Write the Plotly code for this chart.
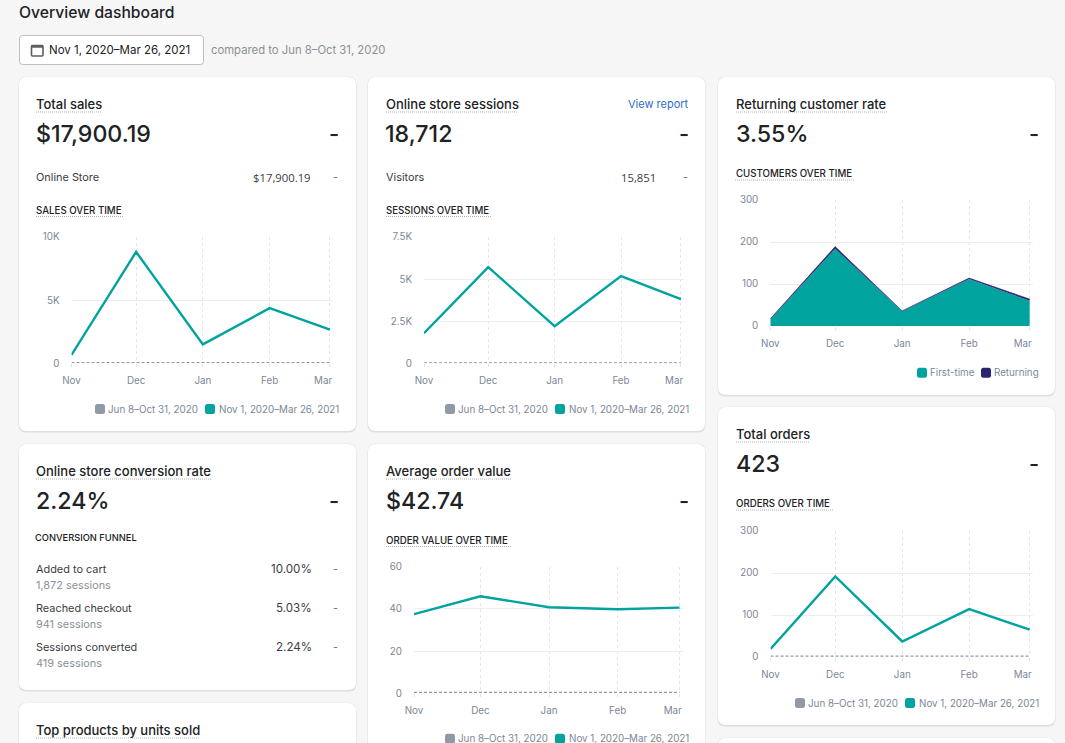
import plotly.graph_objects as go

W, H = 1065, 743
TEAL = "#00a39e"
NAVY = "#2a2470"
GREY = "#8f9aa6"
INK = "#202223"
MUTED = "#8c9196"
AXIS = "#7c8796"
GRID = "#ebedf2"
FONT = "Inter"
NUM_FONT = "Open Sans"
TITLE = 13
BIG = 23.2
HEAD = 9.7
SMALL = 10.9
TICK = 9.8

months = ["2020-11-01", "2020-12-01", "2021-01-01", "2021-02-01", "2021-03-01"]
month_labels = ["Nov", "Dec", "Jan", "Feb", "Mar"]
prior_label = "Jun 8–Oct 31, 2020"
current_label = "Nov 1, 2020–Mar 26, 2021"

sales_current = [660, 8820, 1500, 4370, 2660]
sales_prior = [60, 60, 60, 60, 60]
sales_ticks = [0, 5000, 10000]
sales_ticklabels = ["0", "5K", "10K"]

sessions_current = [1790, 5710, 2200, 5180, 3810]
sessions_prior = [30, 30, 30, 30, 30]
sessions_ticks = [0, 2500, 5000, 7500]
sessions_ticklabels = ["0", "2.5K", "5K", "7.5K"]

customers_first = [16, 184, 35, 112, 60]
customers_returning = [1, 5, 1, 2, 4]
customers_ticks = [0, 100, 200, 300]

aov_current = [37.5, 46, 40.8, 39.8, 40.6]
aov_prior = [0.4, 0.4, 0.4, 0.4, 0.4]
aov_ticks = [0, 20, 40, 60]

orders_current = [19, 192, 37, 114, 65]
orders_prior = [2, 2, 2, 2, 2]
orders_ticks = [0, 100, 200, 300]

fig = go.Figure()
shapes, notes = [], []


def px(x):
    return x / W


def py(y):
    return 1 - y / H


def text(x, y, s, size=11, color=INK, weight=400, anchor="left", family=FONT):
    notes.append(dict(x=x, y=y, xref="x", yref="y", text=s, showarrow=False,
                      xanchor=anchor, yanchor="middle", borderpad=0, borderwidth=0,
                      font=dict(family=family, size=size, color=color, weight=weight)))


def rrect(x0, y0, x1, y1, r, fill, line=None, lw=0):
    path = (f"M{x0 + r},{y0} L{x1 - r},{y0} Q{x1},{y0} {x1},{y0 + r} L{x1},{y1 - r} Q{x1},{y1} {x1 - r},{y1} "
            f"L{x0 + r},{y1} Q{x0},{y1} {x0},{y1 - r} L{x0},{y0 + r} Q{x0},{y0} {x0 + r},{y0} Z")
    shapes.append(dict(type="path", path=path, xref="x", yref="y", fillcolor=fill, layer="below",
                       line=dict(color=line or fill, width=lw)))


def dotted(x0, x1, y):
    shapes.append(dict(type="line", xref="x", yref="y", x0=x0, x1=x1, y0=y, y1=y,
                       layer="below", line=dict(color="#aeb4bb", width=1, dash="1px,1px")))


def card(x0, y0, x1, y1):
    rrect(x0 - 0.5, y0 - 0.2, x1 + 0.5, y1 + 1.5, 8, "#dcdee1")
    rrect(x0, y0, x1, y1, 8, "#ffffff")


def swatch(x, y, color):
    rrect(x, y - 5, x + 10, y + 5, 2.5, color)


def legend_pair(x, y, label_a, color_a, label_b, color_b, gap):
    swatch(x, y, color_a)
    text(x + 13, y, label_a, size=TICK, color=AXIS)
    swatch(x + gap, y, color_b)
    text(x + gap + 13.5, y, label_b, size=TICK, color=AXIS)


# full-page pixel axes carry the cards and the page text
fig.add_trace(go.Scatter(x=[None], y=[None], mode="lines", hoverinfo="skip", showlegend=False))
fig.update_layout(
    xaxis=dict(domain=[0, 1], range=[0, W], visible=False, fixedrange=True, anchor="y"),
    yaxis=dict(domain=[0, 1], range=[H, 0], visible=False, fixedrange=True, anchor="x"),
)

chart_no = [1]


def axes(left, right, top, bottom, ymax, ticks, ticklabels):
    chart_no[0] += 1
    n = chart_no[0]
    xa, ya = f"xaxis{n}", f"yaxis{n}"
    shown = [m if m != "Mar" else m + "\u00a0" * 5 for m in month_labels]
    fig.update_layout({
        xa: dict(domain=[px(left), px(right)], anchor=f"y{n}", type="date",
                 range=["2020-11-01", "2021-03-02 10:00"], tickmode="array", tickvals=months, ticktext=shown,
                 showgrid=True, gridcolor="#e3e6ec", griddash="3px,3px", gridwidth=1, zeroline=False, showline=False,
                 ticks="outside", ticklen=3, tickcolor="#dfe3e8", ticklabelstandoff=5,
                 tickfont=dict(family=FONT, size=TICK, color=AXIS)),
        ya: dict(domain=[py(bottom), py(top)], anchor=f"x{n}", range=[0, ymax], tickmode="array", tickvals=ticks,
                 ticktext=ticklabels, showgrid=True, gridcolor=GRID, gridwidth=1, zeroline=False, showline=False,
                 ticks="", ticklabelstandoff=11, tickfont=dict(family=FONT, size=TICK, color=AXIS)),
    })
    return f"x{n}", f"y{n}"


def line_chart(left, right, top, bottom, ymax, ticks, ticklabels, current, prior):
    xr, yr = axes(left, right, top, bottom, ymax, ticks, ticklabels)
    fig.add_trace(go.Scatter(x=months, y=prior, mode="lines", name=prior_label, xaxis=xr, yaxis=yr,
                             line=dict(color="#8d99ae", width=1.2, dash="3px,2px"), showlegend=False))
    fig.add_trace(go.Scatter(x=months, y=current, mode="lines", name=current_label, xaxis=xr, yaxis=yr,
                             line=dict(color=TEAL, width=2.4), showlegend=False))


# page and cards
card(19, 77, 356, 431)
card(368, 77, 705, 431)
card(718, 77, 1055, 395)
card(19, 444, 356, 690)
card(19, 703, 356, 800)
card(368, 444, 705, 800)
card(718, 407, 1055, 725)
card(718, 738, 1055, 800)

# header
text(19, 12, "Overview dashboard", size=15.7, weight=500)
rrect(19.5, 35.5, 203.5, 64.5, 3, "#ffffff", "#babfc4", 1)
rrect(31.5, 45.5, 43, 56, 1, "#ffffff", "#5c5f62", 1.6)
shapes.append(dict(type="line", xref="x", yref="y", x0=31.5, x1=43, y0=46.5, y1=46.5,
                   layer="below", line=dict(color="#5c5f62", width=2.5)))
text(49, 50, current_label, size=11.5, color=INK)
text(211, 50, "compared to " + prior_label, size=11.3, color=MUTED)

# sales card
text(36, 103.5, "Total sales", size=TITLE, weight=500)
dotted(36, 102, 112)
text(35.5, 134, "$17,900.19", size=BIG, weight=500)
text(339, 134, "-", size=22, weight=500, anchor="right")
text(36, 177, "Online Store", size=SMALL, color="#3b3d3f")
text(310.5, 177, "$17,900.19", size=11.3, color="#3b3d3f", anchor="right", family=NUM_FONT)
text(338, 177, "-", size=SMALL, color="#6d7175", anchor="right")
text(36, 210.5, "SALES OVER TIME", size=HEAD, weight=500)
dotted(36, 124, 216.5)
line_chart(71.5, 333, 237, 363.3, 10000, sales_ticks, sales_ticklabels, sales_current, sales_prior)
legend_pair(95, 409, prior_label, GREY, current_label, TEAL, 110)

# sessions card
text(386, 103.5, "Online store sessions", size=TITLE, weight=500)
dotted(386, 518, 112)
text(689, 104, "View report", size=11, color="#2c6ecb", anchor="right")
text(385, 134, "18,712", size=BIG, weight=500)
text(689, 134, "-", size=22, weight=500, anchor="right")
text(386, 177, "Visitors", size=SMALL, color="#3b3d3f")
text(656, 177, "15,851", size=11.3, color="#3b3d3f", anchor="right", family=NUM_FONT)
text(688, 177, "-", size=SMALL, color="#6d7175", anchor="right")
text(386, 210.5, "SESSIONS OVER TIME", size=HEAD, weight=500)
dotted(386, 492, 216.5)
line_chart(424, 684, 237, 363.3, 7500, sessions_ticks, sessions_ticklabels, sessions_current, sessions_prior)
legend_pair(445, 409, prior_label, GREY, current_label, TEAL, 110)

# returning customers card
text(736, 103.5, "Returning customer rate", size=TITLE, weight=500)
dotted(736, 887, 112)
text(735.5, 134, "3.55%", size=BIG, weight=500)
text(1039, 134, "-", size=22, weight=500, anchor="right")
text(736, 173.5, "CUSTOMERS OVER TIME", size=HEAD, weight=500)
dotted(735, 855, 180)
xr, yr = axes(770.3, 1032.7, 200, 326, 300, customers_ticks, [str(t) for t in customers_ticks])
fig.add_trace(go.Scatter(x=months, y=customers_first, mode="lines", name="First-time", stackgroup="c", xaxis=xr,
                         yaxis=yr, line=dict(color=TEAL, width=0), fillcolor=TEAL, showlegend=False))
fig.add_trace(go.Scatter(x=months, y=customers_returning, mode="lines", name="Returning", stackgroup="c", xaxis=xr,
                         yaxis=yr, line=dict(color=NAVY, width=0.6), fillcolor=NAVY, showlegend=False))
swatch(917, 372.7, TEAL)
text(930, 372.7, "First-time", size=TICK, color=AXIS)
swatch(981, 372.7, NAVY)
text(994, 372.7, "Returning", size=TICK, color=AXIS)

# conversion card
text(36, 470.5, "Online store conversion rate", size=TITLE, weight=500)
dotted(36, 211, 479)
text(35.5, 501, "2.24%", size=BIG, weight=500)
text(339, 501, "-", size=22, weight=500, anchor="right")
text(35, 537.5, "CONVERSION FUNNEL", size=9.3, weight=500)
funnel_steps = ["Added to cart", "Reached checkout", "Sessions converted"]
funnel_sessions = ["1,872 sessions", "941 sessions", "419 sessions"]
funnel_rates = ["10.00%", "5.03%", "2.24%"]
for i, (step, sess, rate) in enumerate(zip(funnel_steps, funnel_sessions, funnel_rates)):
    y = 569 + 39 * i
    text(36, y, step, size=SMALL, color="#3b3d3f")
    text(36, y + 16, sess, size=SMALL, color=MUTED)
    text(312, y, rate, size=11.6, color="#3b3d3f", anchor="right")
    text(338, y, "-", size=SMALL, color="#6d7175", anchor="right")

text(36, 729.5, "Top products by units sold", size=TITLE, weight=500)
dotted(36, 200, 738)

# average order value card
text(386, 470.5, "Average order value", size=TITLE, weight=500)
dotted(386, 511, 479)
text(385.5, 501, "$42.74", size=BIG, weight=500)
text(689, 501, "-", size=22, weight=500, anchor="right")
text(386, 540.5, "ORDER VALUE OVER TIME", size=HEAD, weight=500)
dotted(386, 511, 546.5)
line_chart(414, 682.7, 566.7, 693.3, 60, aov_ticks, [str(t) for t in aov_ticks], aov_current, aov_prior)
legend_pair(445, 738.7, prior_label, GREY, current_label, TEAL, 110)

# total orders card
text(736, 433.5, "Total orders", size=TITLE, weight=500)
dotted(736, 810, 442)
text(735.5, 464, "423", size=BIG, weight=500)
text(1039, 464, "-", size=22, weight=500, anchor="right")
text(736, 503.5, "ORDERS OVER TIME", size=HEAD, weight=500)
dotted(736, 833, 510)
line_chart(770.5, 1032.7, 531, 657, 300, orders_ticks, [str(t) for t in orders_ticks], orders_current, orders_prior)
legend_pair(795, 703, prior_label, GREY, current_label, TEAL, 110)

fig.update_layout(width=W, height=H, autosize=False, margin=dict(l=0, r=0, t=0, b=0, pad=0, autoexpand=False),
                  paper_bgcolor="#f6f6f7",
                  plot_bgcolor="rgba(0,0,0,0)", showlegend=False, shapes=shapes, annotations=notes,
                  font=dict(family=FONT))
fig.write_html("out.html", config=dict(displayModeBar=False),
               post_script="document.body.style.margin='0';document.documentElement.style.overflow='hidden';")
